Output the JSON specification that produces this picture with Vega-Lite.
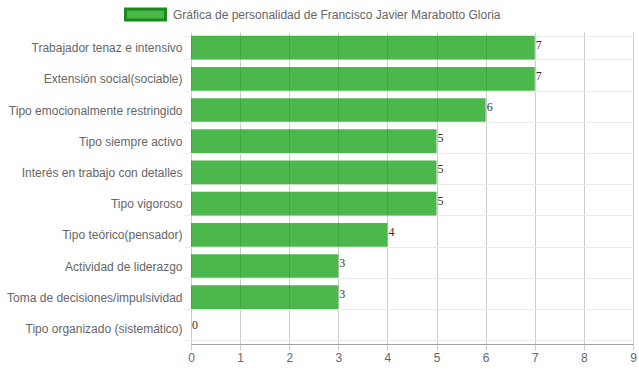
{
  "$schema": "https://vega.github.io/schema/vega-lite/v6.json",
  "autosize": {"type": "none"},
  "width": 442,
  "height": 312,
  "padding": {"left": 191, "top": 32, "right": 6, "bottom": 28},
  "background": "white",
  "config": {
    "view": {"stroke": null},
    "font": "Liberation Sans"
  },
  "data": {
    "values": [
      {"rasgo": "Trabajador tenaz e intensivo", "valor": 7, "serie": "Gráfica de personalidad de Francisco Javier Marabotto Gloria"},
      {"rasgo": "Extensión social(sociable)", "valor": 7, "serie": "Gráfica de personalidad de Francisco Javier Marabotto Gloria"},
      {"rasgo": "Tipo emocionalmente restringido", "valor": 6, "serie": "Gráfica de personalidad de Francisco Javier Marabotto Gloria"},
      {"rasgo": "Tipo siempre activo", "valor": 5, "serie": "Gráfica de personalidad de Francisco Javier Marabotto Gloria"},
      {"rasgo": "Interés en trabajo con detalles", "valor": 5, "serie": "Gráfica de personalidad de Francisco Javier Marabotto Gloria"},
      {"rasgo": "Tipo vigoroso", "valor": 5, "serie": "Gráfica de personalidad de Francisco Javier Marabotto Gloria"},
      {"rasgo": "Tipo teórico(pensador)", "valor": 4, "serie": "Gráfica de personalidad de Francisco Javier Marabotto Gloria"},
      {"rasgo": "Actividad de liderazgo", "valor": 3, "serie": "Gráfica de personalidad de Francisco Javier Marabotto Gloria"},
      {"rasgo": "Toma de decisiones/impulsividad", "valor": 3, "serie": "Gráfica de personalidad de Francisco Javier Marabotto Gloria"},
      {"rasgo": "Tipo organizado (sistemático)", "valor": 0, "serie": "Gráfica de personalidad de Francisco Javier Marabotto Gloria"}
    ]
  },
  "encoding": {
    "y": {
      "field": "rasgo",
      "type": "nominal",
      "sort": null,
      "scale": {"paddingInner": 0.24, "paddingOuter": 0.12},
      "axis": {
        "title": null,
        "domain": false,
        "tickBand": "extent",
        "grid": true,
        "gridColor": "#ebebeb",
        "tickColor": "#ebebeb",
        "tickSize": 8,
        "labelFontSize": 12,
        "labelColor": "#666666",
        "labelFont": "Liberation Sans",
        "labelPadding": 1,
        "labelLimit": 200
      }
    }
  },
  "layer": [
    {
      "mark": {"type": "bar", "fill": "#009900", "fillOpacity": 0.7},
      "encoding": {
        "x": {
          "field": "valor",
          "type": "quantitative",
          "scale": {"domain": [0, 9], "nice": false},
          "axis": {
            "title": null,
            "tickCount": 9,
            "grid": true,
            "gridColor": "#cccccc",
            "tickColor": "#cccccc",
            "tickSize": 6,
            "domainColor": "#a0a0a0",
            "labelFontSize": 12,
            "labelColor": "#666666",
            "labelFont": "Liberation Sans",
            "labelPadding": 2,
            "labelFlush": false
          }
        },
        "color": {
          "field": "serie",
          "type": "nominal",
          "scale": {"range": ["#4cb74c"]},
          "legend": {
            "title": null,
            "orient": "none",
            "legendX": -67,
            "legendY": -39,
            "symbolType": "M-1,-0.28H1V0.28H-1Z",
            "symbolSize": 1600,
            "symbolOpacity": 1,
            "labelFontSize": 12,
            "labelColor": "#666666",
            "labelFont": "Liberation Sans",
            "labelLimit": 500,
            "labelOffset": 6,
            "encode": {
              "symbols": {
                "update": {
                  "fill": {"value": "#4cb74c"},
                  "fillOpacity": {"value": 1},
                  "stroke": {"value": "#1a8a1a"},
                  "strokeWidth": {"value": 3},
                  "opacity": {"value": 1}
                }
              }
            }
          }
        }
      }
    },
    {
      "mark": {"type": "text", "align": "left", "baseline": "middle", "dx": 1, "dy": -3, "font": "Liberation Serif", "fontSize": 12, "fill": "#333333"},
      "encoding": {
        "x": {"field": "valor", "type": "quantitative"},
        "text": {"field": "valor", "type": "quantitative"}
      }
    }
  ]
}
